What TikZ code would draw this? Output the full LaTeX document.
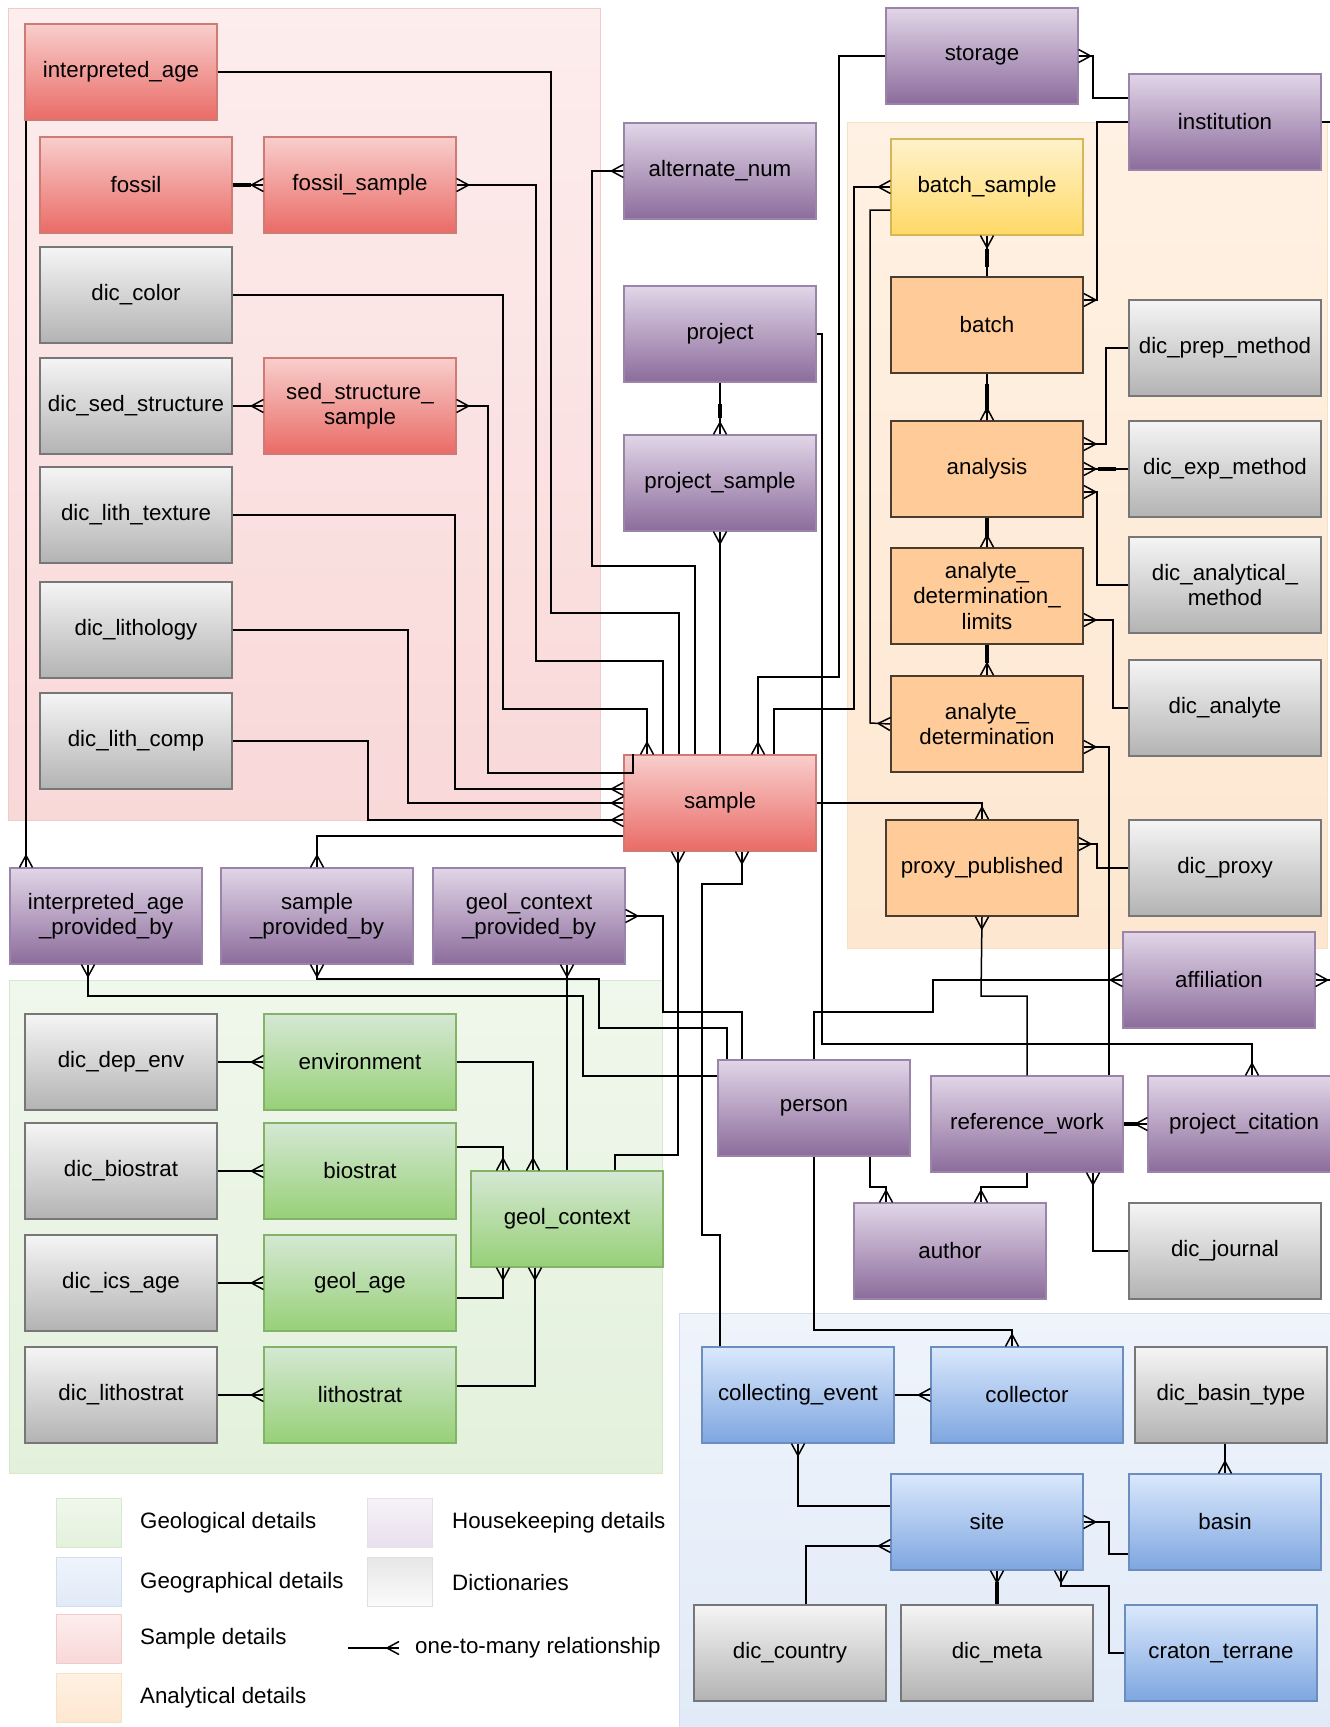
\documentclass[tikz,border=0pt]{standalone}
\usepackage{fontspec}
\setmainfont{Liberation Sans}
\usetikzlibrary{arrows.meta,calc,positioning}

% box colours
\definecolor{smptop}{HTML}{F8CECC}\definecolor{smpbot}{HTML}{EA6B66}\definecolor{smpline}{HTML}{D07A76}
\definecolor{dictop}{HTML}{F5F5F5}\definecolor{dicbot}{HTML}{B3B3B3}\definecolor{dicline}{HTML}{777777}
\definecolor{hktop}{HTML}{E1D5E7}\definecolor{hkbot}{HTML}{8C6C9C}\definecolor{hkline}{HTML}{9A84AA}
\definecolor{anafill}{HTML}{FFCC99}\definecolor{analine}{HTML}{4A3C30}
\definecolor{bsmtop}{HTML}{FFF2CC}\definecolor{bsmbot}{HTML}{FFD966}\definecolor{bsmline}{HTML}{D6B656}
\definecolor{geotop}{HTML}{D5E8D4}\definecolor{geobot}{HTML}{97D077}\definecolor{geoline}{HTML}{82B366}
\definecolor{gphtop}{HTML}{DAE8FC}\definecolor{gphbot}{HTML}{7EA6E0}\definecolor{gphline}{HTML}{6C8EBF}
% area colours
\definecolor{pinkA}{HTML}{FDEDED}\definecolor{pinkB}{HTML}{F9D8D8}\definecolor{pinkL}{HTML}{F2CACA}
\definecolor{greenA}{HTML}{F0F7EC}\definecolor{greenB}{HTML}{E3F1DC}\definecolor{greenL}{HTML}{D6E9CD}
\definecolor{orngA}{HTML}{FFF1E3}\definecolor{orngB}{HTML}{FDE7D0}\definecolor{orngL}{HTML}{F5E2C2}
\definecolor{blueA}{HTML}{EFF4FB}\definecolor{blueB}{HTML}{E1EAF8}\definecolor{blueL}{HTML}{D2DDEE}
\definecolor{greyA}{HTML}{E6E6E6}\definecolor{greyB}{HTML}{FBFBFB}\definecolor{greyL}{HTML}{E0E0E0}

% crow's foot for the many end
\pgfdeclarearrow{
  name = Crow,
  parameters = {\the\pgfarrowlength,\the\pgfarrowwidth},
  setup code = {
    \pgfarrowssettipend{0pt}
    \pgfarrowssetlineend{0pt}
    \pgfarrowssetbackend{-\pgfarrowlength}
    \pgfarrowshullpoint{0pt}{.5\pgfarrowwidth}
    \pgfarrowshullpoint{0pt}{-.5\pgfarrowwidth}
    \pgfarrowshullpoint{-\pgfarrowlength}{0pt}
    \pgfarrowssavethe\pgfarrowlength
    \pgfarrowssavethe\pgfarrowwidth
  },
  drawing code = {
    \pgfsetdash{}{0pt}
    \pgfpathmoveto{\pgfqpoint{0pt}{.5\pgfarrowwidth}}
    \pgfpathlineto{\pgfqpoint{-\pgfarrowlength}{0pt}}
    \pgfpathlineto{\pgfqpoint{0pt}{-.5\pgfarrowwidth}}
    \pgfusepathqstroke
  },
  defaults = {length = 12pt, width = 13pt}
}

\tikzset{
  tbl/.style={draw, line width=1.2pt, minimum width=192pt, minimum height=96pt, inner sep=1pt, align=center, font=\fontsize{22.3}{25.5}\selectfont},
  smp/.style={tbl, draw=smpline, top color=smptop, bottom color=smpbot},
  dic/.style={tbl, draw=dicline, top color=dictop, bottom color=dicbot},
  hk/.style={tbl, draw=hkline, top color=hktop, bottom color=hkbot},
  ana/.style={tbl, draw=analine, fill=anafill, line width=1.6pt},
  bsm/.style={tbl, draw=bsmline, top color=bsmtop, bottom color=bsmbot},
  geo/.style={tbl, draw=geoline, top color=geotop, bottom color=geobot},
  gph/.style={tbl, draw=gphline, top color=gphtop, bottom color=gphbot},
  rel/.style={draw=black, line width=1.5pt},
  onebar/.style={draw=black, line width=3.4pt},
  legbox/.style={minimum width=65pt, minimum height=49pt, inner sep=0pt, line width=1pt},
  legtxt/.style={anchor=west, inner sep=0pt, font=\fontsize{22.3}{25.5}\selectfont}
}

\begin{document}
\begin{tikzpicture}[x=1pt,y=-1pt]
\useasboundingbox (0,0) rectangle (1330,1727);
\fill[white] (0,0) rectangle (1330,1727);

% areas
\draw[draw=pinkL, top color=pinkA, bottom color=pinkB] (8,8) rectangle (600,820);
\draw[draw=orngL, top color=orngA, bottom color=orngB] (847,122) rectangle (1327,948);
\draw[draw=greenL, top color=greenA, bottom color=greenB] (9,980) rectangle (662,1473);
\draw[draw=blueL, top color=blueA, bottom color=blueB] (679,1313) rectangle (1332,1729);

% sample details
\node[smp] (ia) at (121,72) {interpreted\_age};
\node[smp] (fossil) at (136,185) {fossil};
\node[smp] (fossilsmp) at (360,185) {fossil\_sample};
\node[dic] (diccolor) at (136,295) {dic\_color};
\node[dic] (dicsed) at (136,406) {dic\_sed\_structure};
\node[smp] (sedsmp) at (360,406) {sed\_structure\_\\sample};
\node[dic] (dictex) at (136,515) {dic\_lith\_texture};
\node[dic] (diclith) at (136,630) {dic\_lithology};
\node[dic] (diccomp) at (136,741) {dic\_lith\_comp};
\node[smp] (sample) at (720,803) {sample};

% housekeeping
\node[hk] (altnum) at (720,171) {alternate\_num};
\node[hk] (project) at (720,334) {project};
\node[hk] (projsmp) at (720,483) {project\_sample};
\node[hk] (storage) at (982,56) {storage};
\node[hk] (inst) at (1225,122) {institution};
\node[hk] (iapb) at (106,916) {interpreted\_age\\\_provided\_by};
\node[hk] (spb) at (317,916) {sample\\\_provided\_by};
\node[hk] (gcpb) at (529,916) {geol\_context\\\_provided\_by};
\node[hk] (affil) at (1219,980) {affiliation};
\node[hk] (person) at (814,1108) {person};
\node[hk] (refwork) at (1027,1124) {reference\_work};
\node[hk] (projcit) at (1244,1124) {project\_citation};
\node[hk] (author) at (950,1251) {author};
\node[dic] (journal) at (1225,1251) {dic\_journal};

% analytical details
\node[bsm] (batchsmp) at (987,187) {batch\_sample};
\node[ana] (batch) at (987,325) {batch};
\node[ana] (analysis) at (987,469) {analysis};
\node[ana] (adl) at (987,596) {analyte\_\\determination\_\\limits};
\node[ana] (ad) at (987,724) {analyte\_\\determination};
\node[ana] (proxy) at (982,868) {proxy\_published};
\node[dic] (prep) at (1225,348) {dic\_prep\_method};
\node[dic] (exp) at (1225,469) {dic\_exp\_method};
\node[dic] (anmeth) at (1225,585) {dic\_analytical\_\\method};
\node[dic] (analyte) at (1225,708) {dic\_analyte};
\node[dic] (dproxy) at (1225,868) {dic\_proxy};

% geological details
\node[dic] (depenv) at (121,1062) {dic\_dep\_env};
\node[geo] (env) at (360,1062) {environment};
\node[dic] (dbio) at (121,1171) {dic\_biostrat};
\node[geo] (bio) at (360,1171) {biostrat};
\node[dic] (dics) at (121,1283) {dic\_ics\_age};
\node[geo] (gage) at (360,1283) {geol\_age};
\node[dic] (dlitho) at (121,1395) {dic\_lithostrat};
\node[geo] (litho) at (360,1395) {lithostrat};
\node[geo] (gc) at (567,1219) {geol\_context};

% geographical details
\node[gph] (collev) at (798,1395) {collecting\_event};
\node[gph] (collector) at (1027,1395) {collector};
\node[dic] (basintype) at (1231,1395) {dic\_basin\_type};
\node[gph] (site) at (987,1522) {site};
\node[gph] (basin) at (1225,1522) {basin};
\node[dic] (country) at (790,1653) {dic\_country};
\node[dic] (meta) at (997,1653) {dic\_meta};
\node[gph] (craton) at (1221,1653) {craton\_terrane};

\coordinate (instout) at (1332,122);
\coordinate (affout) at (1332,980);

% relationships: sample details
\draw[rel,-Crow] (fossil) -- (fossilsmp);
\draw[rel,-Crow] (dicsed) -- (sedsmp);
\draw[rel,-Crow] ([xshift=-57pt]sample.north) |- (536,661) |- (fossilsmp.east);
\draw[rel,Crow-] (sedsmp.east) -| (488,773) -| ([xshift=-87pt]sample.north);
\draw[rel,-Crow] (diccolor.east) -| (503,709) -| ([xshift=-73pt]sample.north);
\draw[rel] (ia.east) -| (551,613) -| ([xshift=-41pt]sample.north);
\draw[rel,-Crow] ([xshift=-25pt]sample.north) |- (592,566) |- (altnum.west);
\draw[rel,-Crow] (sample) -- (projsmp);
\draw[rel,-Crow] (project) -- (projsmp);
\draw[rel,-Crow] (storage.west) -| (839,677) -| ([xshift=38pt]sample.north);
\draw[rel,-Crow] ([xshift=54pt]sample.north) |- (854,709) |- (batchsmp.west);
\draw[rel,-Crow] (project.east) -| (822,1044) -| ([xshift=8pt]projcit.north);
\draw[rel,-Crow] ([yshift=-23pt]batchsmp.west) -| (870,723) -- (ad.west);
\draw[rel,-Crow] (dictex.east) -| (455,789) -- ([yshift=14pt]sample.west);
\draw[rel,-Crow] (diclith.east) -| (408,803) -- (sample.west);
\draw[rel,-Crow] (diccomp.east) -| (368,820) -- ([yshift=-17pt]sample.west);
\draw[rel,-Crow] ([yshift=-33pt]sample.west) -| (spb.north);
\draw[rel,-Crow] ([xshift=-95pt]ia.south) -- ([xshift=-80pt]iapb.north);

% relationships: provided_by and geological details
\draw[rel,-Crow] ([xshift=48pt]gc.north) |- (678,1155) -- ([xshift=-42pt]sample.south);
\draw[rel,-Crow] ([xshift=-78pt]collev.north) |- (702,1235) |- (742,884) -- ([xshift=22pt]sample.south);
\draw[rel,-Crow] ([xshift=-72pt]person.north) |- (663,1012) |- (gcpb.east);
\draw[rel,-Crow] (gc.north) -- (gc.north |- gcpb.south);
\draw[rel,-Crow] ([xshift=-87pt]person.north) |- (599,1028) |- (317,979) -- (spb.south);
\draw[rel,-Crow] ([yshift=32pt]person.west) -| (583,996) -| ([xshift=-18pt]iapb.south);
\draw[rel,-Crow] (depenv) -- (env);
\draw[rel,-Crow] (dbio) -- (bio);
\draw[rel,-Crow] (dics) -- (gage);
\draw[rel,-Crow] (dlitho) -- (litho);
\draw[rel,-Crow] (env.east) -| ([xshift=-34pt]gc.north);
\draw[rel,-Crow] ([yshift=24pt]bio.east) -| ([xshift=-64pt]gc.north);
\draw[rel,-Crow] ([yshift=-15pt]gage.east) -| ([xshift=-64pt]gc.south);
\draw[rel,-Crow] ([yshift=9pt]litho.east) -| ([xshift=-32pt]gc.south);

% relationships: analytical details and housekeeping
\draw[rel,-Crow] (sample.east) -| (proxy.north);
\draw[rel,-Crow] (dproxy.west) -| (1097,844) -- ([yshift=24pt]proxy.east);
\draw[rel,-Crow] (refwork.north) |- (981,996) -- (proxy.south);
\draw[rel,-Crow] ([xshift=82pt]refwork.north) |- ([yshift=-23pt]ad.east);
\draw[rel,-Crow] (refwork) -- (projcit);
\draw[rel,-Crow] (person.north) |- (933,1012) |- (affil.west);
\draw[rel,-Crow] ([xshift=56pt]person.south) |- (886,1187) -- ([xshift=-64pt]author.north);
\draw[rel,-Crow] (refwork.south) |- (981,1187) -- ([xshift=31pt]author.north);
\draw[rel,-Crow] (journal.west) -| ([xshift=66pt]refwork.south);
\draw[rel,-Crow] (person.south) |- (1012,1330) -- ([xshift=-15pt]collector.north);
\draw[rel,Crow-] (affil.east) -- (affout);
\draw[rel] (inst.east) -- (instout);
\draw[rel,-Crow] ([yshift=24pt]inst.west) -| (1093,56) -- (storage.east);
\draw[rel,-Crow] (inst.west) -| (1097,300) -- ([yshift=25pt]batch.east);
\draw[rel,Crow-] (batchsmp) -- (batch);
\draw[rel,-Crow] (batch) -- (analysis);
\draw[rel,-Crow] (analysis) -- (adl);
\draw[rel,-Crow] (adl) -- (ad);
\draw[rel,-Crow] (prep.west) -| (1106,444) -- ([yshift=25pt]analysis.east);
\draw[rel,-Crow] (exp) -- (analysis);
\draw[rel,-Crow] (anmeth.west) -| (1097,492) -- ([yshift=-23pt]analysis.east);
\draw[rel,-Crow] (analyte.west) -| (1113,620) -- ([yshift=-24pt]adl.east);

% relationships: geographical details
\draw[rel,-Crow] (collev) -- (collector);
\draw[rel,-Crow] ([yshift=16pt]site.west) -| (collev.south);
\draw[rel,-Crow] ([xshift=16pt]country.north) |- ([yshift=-24pt]site.west);
\draw[rel,-Crow] (meta.north) -- (meta.north |- site.south);
\draw[rel,-Crow] (craton.west) -| (1109,1586) -| ([xshift=74pt]site.south);
\draw[rel,-Crow] ([yshift=-32pt]basin.west) -| (1109,1522) -- (site.east);
\draw[rel,-Crow] (basin.north |- basintype.south) -- (basin.north);

% heavy marks at the one ends
\draw[onebar] (fossil.east) -- ++(18,0);
\draw[onebar] ([yshift=-21pt]project.south) -- ([yshift=-35pt]project.south);
\draw[onebar] ([yshift=-13pt]batchsmp.south) -- ([yshift=-31pt]batchsmp.south);
\draw[onebar] ([yshift=-10pt]batch.south) -- ([yshift=-39pt]batch.south);
\draw[onebar] (analysis.south) -- ([yshift=-20pt]analysis.south);
\draw[onebar] (adl.south) -- ([yshift=-18pt]adl.south);
\draw[onebar] ([xshift=14pt]analysis.east) -- ([xshift=32pt]analysis.east);
\draw[onebar] (refwork.east) -- ++(13,0);
\draw[onebar] (meta.north) -- ++(0,-22);

% legend
\node[legbox, draw=greenL, top color=greenA, bottom color=greenB] (lgeo) at (88.5,1522.5) {};
\node[legbox, draw=blueL, top color=blueA, bottom color=blueB] (lgph) at (88.5,1581.5) {};
\node[legbox, draw=pinkL, top color=pinkA, bottom color=pinkB] (lsmp) at (88.5,1638.5) {};
\node[legbox, draw=orngL, top color=orngA, bottom color=orngB] (lana) at (88.5,1697.5) {};
\node[legbox, draw=hkline!25, top color=hktop!30, bottom color=hktop!75] (lhk) at (399.5,1522.5) {};
\node[legbox, draw=greyL, top color=greyA, bottom color=greyB] (ldic) at (399.5,1581.5) {};
\node[legtxt] (tgeo) at (140,1523) {Geological details};
\node[legtxt] (tgph) at (140,1583) {Geographical details};
\node[legtxt] (tsmp) at (140,1639) {Sample details};
\node[legtxt] (tana) at (140,1698) {Analytical details};
\node[legtxt] (thk) at (452,1523) {Housekeeping details};
\node[legtxt] (tdic) at (452,1583) {Dictionaries};
\node[legtxt] (trel) at (415,1648) {one-to-many relationship};
\coordinate (lrelA) at (348,1648);
\coordinate (lrelB) at (399,1648);
\draw[rel,-Crow] (lrelA) -- (lrelB);
\end{tikzpicture}
\end{document}
